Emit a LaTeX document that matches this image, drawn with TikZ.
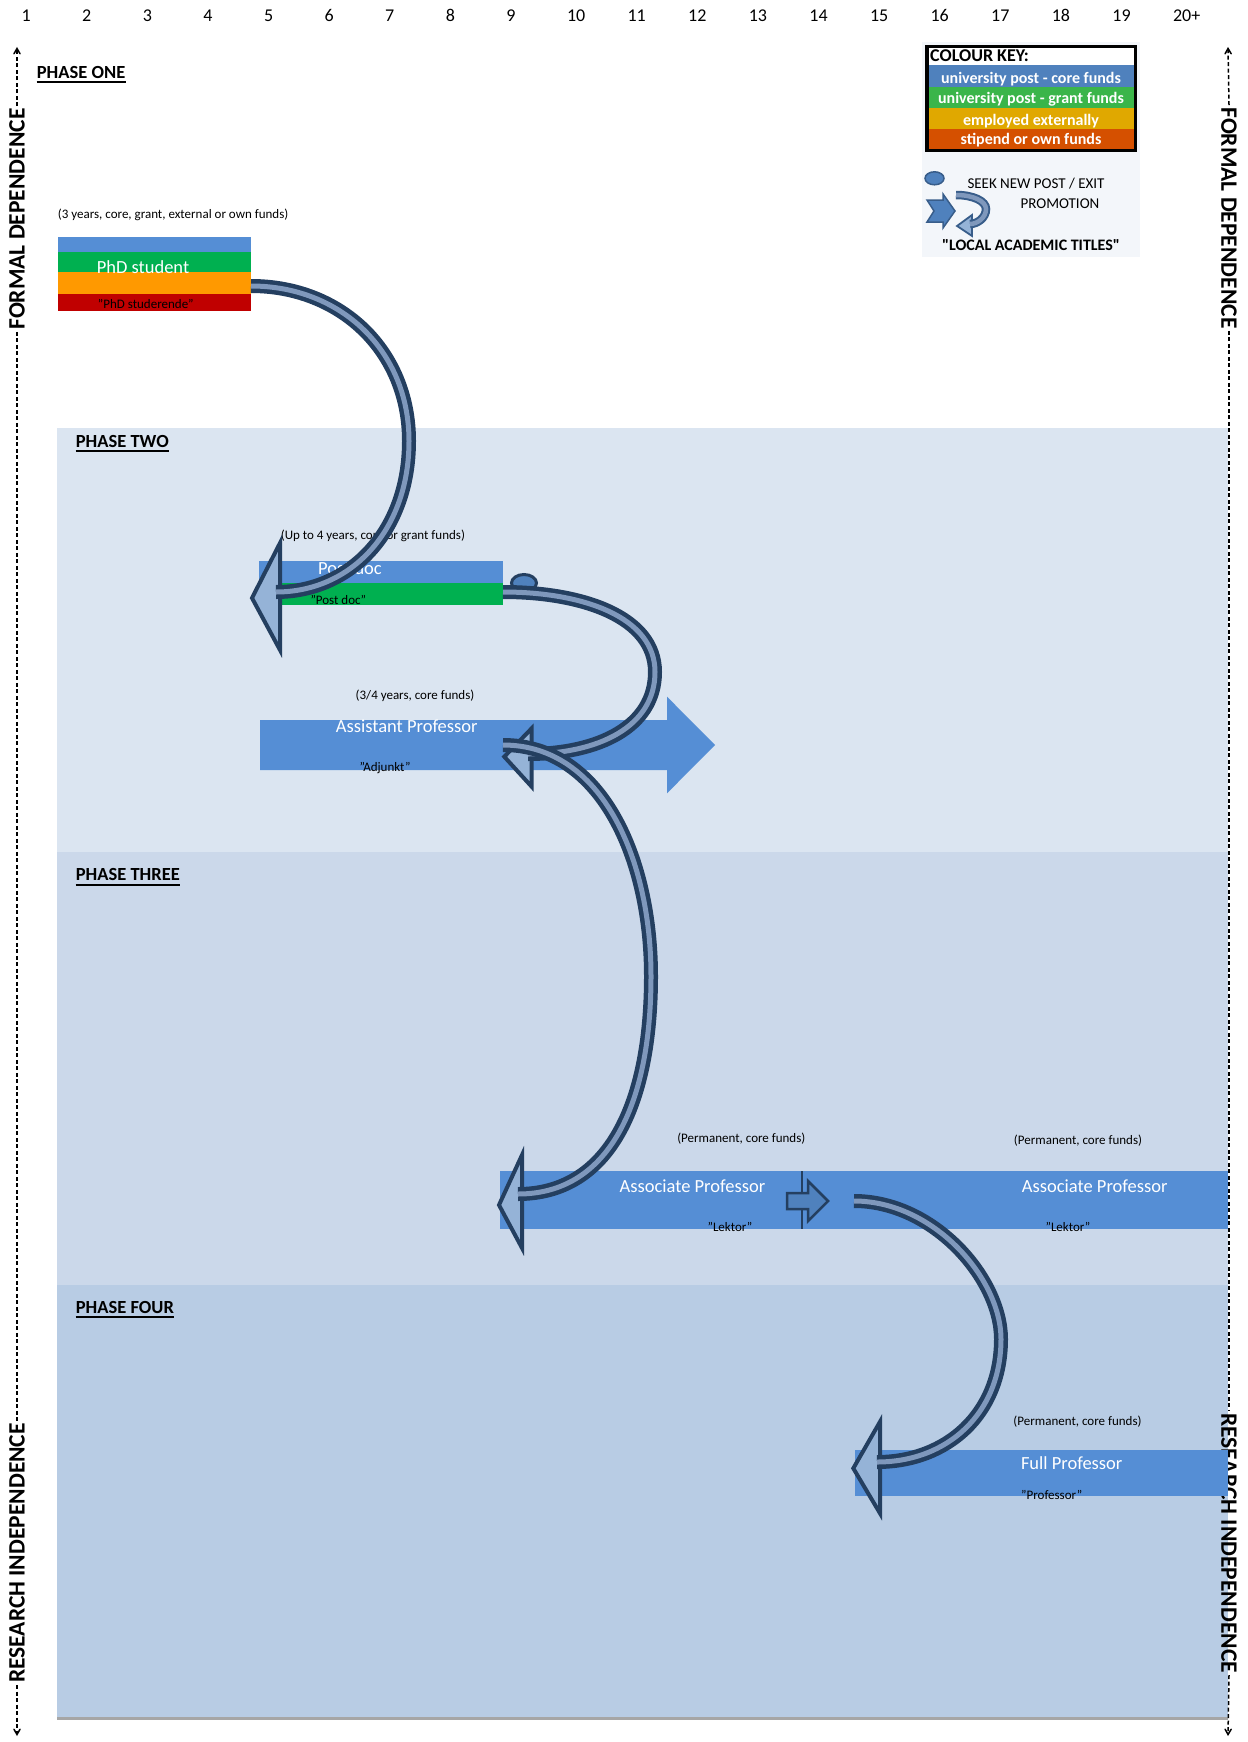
\documentclass[tikz,border=0pt]{standalone}
\usepackage{fontspec}
\setmainfont{Carlito}[Ligatures=TeXOff]
\usepackage{tikz}
\usetikzlibrary{arrows}

\definecolor{corefund}{HTML}{558ED5}
\definecolor{grantfund}{HTML}{00B050}
\definecolor{extfund}{HTML}{FF9900}
\definecolor{ownfund}{HTML}{C00000}
\definecolor{keycore}{HTML}{4F81BD}
\definecolor{keygrant}{HTML}{3AB54A}
\definecolor{keyext}{HTML}{E0A800}
\definecolor{keyown}{HTML}{D55000}
\definecolor{keyline}{HTML}{385D8A}
\definecolor{keypanel}{HTML}{F3F6FA}
\definecolor{phasetwo}{HTML}{DBE5F1}
\definecolor{phasethree}{HTML}{CBD8EA}
\definecolor{phasefour}{HTML}{B8CCE4}
\definecolor{navy}{HTML}{243F60}
\definecolor{shaftblue}{HTML}{7F98BC}
\definecolor{headblue}{HTML}{95B3D7}

\tikzset{
colnum/.style={font=\fontsize{18}{20}\selectfont, anchor=base west, inner sep=0},
phaselabel/.style={font=\bfseries\fontsize{18.5}{20}\selectfont, anchor=base west, inner sep=0},
barlabel/.style={text=white, font=\fontsize{18.5}{20}\selectfont, anchor=base, inner sep=0},
aliaslabel/.style={font=\fontsize{13}{15}\selectfont, anchor=base, inner sep=0},
fundlabel/.style={font=\fontsize{13}{15}\selectfont, anchor=base, inner sep=0},
keyrow/.style={text=white, font=\bfseries\fontsize{16}{18}\selectfont, anchor=base, inner sep=0},
keytext/.style={font=\fontsize{15}{17}\selectfont, anchor=base, inner sep=0},
sidelabel/.style={font=\bfseries\fontsize{23.5}{25}\selectfont, inner sep=2pt},
sideline/.style={line width=1.5pt, dash pattern=on 4pt off 2.5pt, >=angle 60},
shaft/.style={draw=navy, line width=4.5pt, double=shaftblue, double distance=5pt},
curvehead/.style={draw=navy, fill=headblue, line width=4pt, line join=miter},
keyshaft/.style={draw=keyline, line width=2pt, double=shaftblue, double distance=4.5pt},
keyhead/.style={draw=keyline, fill=headblue, line width=1.8pt, line join=miter}
}

\begin{document}
\begin{tikzpicture}[x=1pt,y=-1pt]
\useasboundingbox (0,0) rectangle (1247,1742);

\fill[phasetwo] (57,428) rectangle (1228,852);
\fill[phasethree] (57,852) rectangle (1228,1285);
\fill[phasefour] (57,1285) rectangle (1228,1717);
\draw[line width=3pt, black!35] (57,1718.5) -- (1228,1718.5);

\foreach \n in {1,...,19}{
\node[colnum] (col\n) at ({21.4+(\n-1)*60.6},22) {\n};
}
\node[colnum] (col20) at (1172.8,22) {20+};

\node[phaselabel] (phone) at (36.7,78.4) {PHASE ONE};
\node[phaselabel] (phtwo) at (75.7,447) {PHASE TWO};
\node[phaselabel] (phthree) at (75.7,880.5) {PHASE THREE};
\node[phaselabel] (phfour) at (75.7,1313) {PHASE FOUR};
\foreach \p in {phone,phtwo,phthree,phfour}{
\draw[line width=2pt] ([yshift=-4pt]\p.base west) -- ([yshift=-4pt]\p.base east);
}

% side scales
\coordinate (ltop) at (17,47);
\coordinate (lbottom) at (17,1736);
\coordinate (rtop) at (1228,47);
\coordinate (rbottom) at (1228,1736);
\node[sidelabel, rotate=90] (lformal) at (17,219) {FORMAL DEPENDENCE};
\node[sidelabel, rotate=90] (lresearch) at (17,1553) {RESEARCH INDEPENDENCE};
\node[sidelabel, rotate=-90] (rformal) at (1229,218) {FORMAL DEPENDENCE};
\node[sidelabel, rotate=-90] (rresearch) at (1229,1543) {RESEARCH INDEPENDENCE};
\draw[sideline, ->] (lformal.east) -- (ltop);
\draw[sideline] (lformal.west) -- (lresearch.east);
\draw[sideline, ->] (lresearch.west) -- (lbottom);
\draw[sideline, ->] (rformal.west) -- (rtop);
\draw[sideline] (rformal.east) -- (rresearch.west);
\draw[sideline, ->] (rresearch.east) -- (rbottom);

% colour key
\fill[keypanel] (922,42) rectangle (1140,257);
\fill[white] (928,48) rectangle (1134,65);
\fill[keycore] (928,65) rectangle (1134,87);
\fill[keygrant] (928,87) rectangle (1134,108.5);
\fill[keyext] (928,108.5) rectangle (1134,129);
\fill[keyown] (928,129) rectangle (1134,149);
\draw[line width=3.5pt] (926.75,46.75) rectangle (1135.5,150.5);
\node[anchor=base west, inner sep=0, font=\bfseries\fontsize{18}{20}\selectfont] (keytitle) at (930,62) {COLOUR KEY:};
\node[keyrow] (keyrowa) at (1031,83.3) {university post - core funds};
\node[keyrow] (keyrowb) at (1031,103.5) {university post - grant funds};
\node[keyrow] (keyrowc) at (1031,125) {employed externally};
\node[keyrow] (keyrowd) at (1031,145) {stipend or own funds};
\draw[keyline, fill=keycore, line width=1.5pt] (934.5,178.3) ellipse [x radius=9.5pt, y radius=6.5pt];
\node[keytext] (keyexit) at (1036,188) {SEEK NEW POST / EXIT};
\node[keytext] (keypromo) at (1060,208) {PROMOTION};
\draw[keyline, fill=keycore, line width=1.5pt, line join=miter] (927,200) -- (943,200) -- (943,194) -- (955,211) -- (943,228) -- (943,222) -- (927,222) -- (934,211) -- cycle;
\coordinate (keystart) at (956,195);
\coordinate (keybend) at (986,209);
\coordinate (keyend) at (970,224);
\draw[keyhead] (957,226) -- (972,215) -- (972,236) -- cycle;
\draw[keyshaft] (keystart) .. controls +(17,0) and +(0,-8) .. (keybend) .. controls +(0,9) and +(7,0) .. (keyend);
\node[anchor=base, inner sep=0, font=\bfseries\fontsize{16}{18}\selectfont] (keytitles) at (1031,250) {"LOCAL ACADEMIC TITLES"};

% PhD
\fill[corefund] (57.8,236.7) rectangle (251,252);
\fill[grantfund] (57.8,252) rectangle (251,272);
\fill[extfund] (57.8,272) rectangle (251,294);
\fill[ownfund] (57.8,294) rectangle (251,310.7);
\node[fundlabel, anchor=base west] (phdfunds) at (57.7,218) {(3 years, core, grant, external or own funds)};
\node[barlabel] (phdtitle) at (143,273.3) {PhD student};
\node[aliaslabel] (phdalias) at (145.8,308.3) {”PhD studerende”};

% post doc
\fill[corefund] (259,561) rectangle (503,582.7);
\fill[grantfund] (259,582.7) rectangle (503,604.7);
\node[fundlabel, anchor=base west] (postfunds) at (280.7,539) {(Up to 4 years, core or grant funds)};
\node[barlabel] (posttitle) at (350,574) {Post doc};
\node[aliaslabel] (postalias) at (338.3,604) {”Post doc”};

% assistant
\fill[corefund] (260,720) -- (667,720) -- (667,696.7) -- (715,745) -- (667,793.3) -- (667,770) -- (260,770) -- cycle;
\node[fundlabel] (asstfunds) at (415,699) {(3/4 years, core funds)};
\node[barlabel] (assttitle) at (406.7,732.5) {Assistant Professor};
\node[aliaslabel] (asstalias) at (385,771) {”Adjunkt”};

% associate
\fill[corefund] (500,1171) rectangle (1228,1229);
\draw[navy, line width=1.5pt] (802,1171) -- (802,1229);
\node[fundlabel] (assocfunds) at (741.3,1142.5) {(Permanent, core funds)};
\node[barlabel] (assoctitle) at (692.4,1192) {Associate Professor};
\node[aliaslabel] (assocalias) at (730,1231.5) {”Lektor”};
\node[fundlabel] (assocfundsb) at (1078,1144) {(Permanent, core funds)};
\node[barlabel] (assoctitleb) at (1094.7,1192.5) {Associate Professor};
\node[aliaslabel] (assocaliasb) at (1068,1231) {”Lektor”};
\draw[navy, fill=keycore, line width=2.5pt, line join=miter] (787,1193) -- (808,1193) -- (808,1181) -- (828,1201) -- (808,1221) -- (808,1209) -- (787,1209) -- cycle;

% full
\fill[corefund] (855,1450) rectangle (1228,1496);
\node[fundlabel] (fullfunds) at (1077.5,1425.5) {(Permanent, core funds)};
\node[barlabel] (fulltitle) at (1071.7,1469) {Full Professor};
\node[aliaslabel] (fullalias) at (1051.7,1499) {”Professor”};

% curved arrows
\coordinate (phdout) at (251,286);
\coordinate (phdbend) at (409,441);
\coordinate (postin) at (276,592);
\draw[curvehead] (252,598) -- (280,543) -- (280,650) -- cycle;
\draw[shaft] (phdout) .. controls +(90,0) and +(0,-90) .. (phdbend) .. controls +(0,90) and +(75,0) .. (postin);

\coordinate (postout) at (503,592);
\coordinate (postbend) at (655,672);
\coordinate (asstin) at (528,754);
\draw[navy, fill=keycore, line width=3pt] (524,583) ellipse [x radius=12.5pt, y radius=8.5pt];
\draw[curvehead] (504.3,756.7) -- (531.7,728.3) -- (531.7,786.7) -- cycle;
\draw[shaft] (postout) .. controls +(80,0) and +(0,-55) .. (postbend) .. controls +(0,55) and +(70,0) .. (asstin);

\coordinate (asstout) at (503,745);
\coordinate (asstbend) at (651,976);
\coordinate (associn) at (518,1194);
\draw[curvehead] (499,1205) -- (522,1155) -- (522,1248) -- cycle;
\draw[shaft] (asstout) .. controls +(100,0) and +(0,-115) .. (asstbend) .. controls +(0,130) and +(90,0) .. (associn);

\coordinate (assocout) at (854,1201);
\coordinate (assocbend) at (1001,1339);
\coordinate (fullin) at (877,1462);
\draw[curvehead] (853.3,1468.3) -- (880,1421.7) -- (880,1513.3) -- cycle;
\draw[shaft] (assocout) .. controls +(80,0) and +(0,-60) .. (assocbend) .. controls +(0,75) and +(70,0) .. (fullin);
\end{tikzpicture}
\end{document}
